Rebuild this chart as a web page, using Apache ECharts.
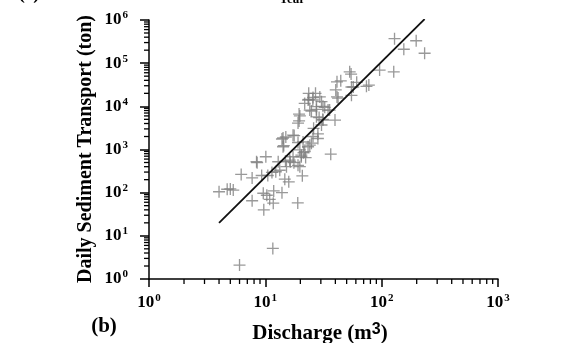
<!DOCTYPE html>
<html>
<head>
<meta charset="utf-8">
<script src="https://cdn.jsdelivr.net/npm/echarts@6/dist/echarts.min.js"></script>
<style>html,body{margin:0;padding:0;background:#fff;}#c{width:579px;height:343px;}</style>
</head>
<body>
<div id="c"></div>
<script>
// Observed discharge (m3) and daily sediment transport (ton)
const discharge = [4.0,4.7,5.0,5.3,6.2,7.7,8.5,10.1,9.3,10.5,11.4,12.3,7.7,9.6,10.3,10.9,11.7,9.7,13.9,14.7,
  15.9,19.0,20.8,11.8,11.6,6.0,12.9,14.9,16.4,17.6,19.1,20.4,21.3,22.2,24.1,19.8,13.9,14.4,15.0,17.7,
  19.1,19.5,19.5,23.3,25.7,27.0,29.4,30.4,32.4,34.6,27.5,24.9,29.0,26.0,30.4,31.2,28.3,25.7,39.7,36.5,
  42.2,53.1,41.3,44.5,40.3,55,57,129,155,198,234,96,127,61,74,14.2,8.4,
  23.6,31.3,35.7,19.8,19.1,17.3,21.1,24.9,28.3,14.2,23.6,25.6,27.5,27.5,31.3,24.1,21.8,17.3,20.4,21.8,
  23.3,16.2,15.2,19.8,13.3,54.6,77.6,55,41.3];
const sediment = [105,120,122,115,265,220,495,680,250,250,295,305,65,97,87,70,57,40,100,205,
  178,58,245,110,5.1,2.1,520,540,520,495,430,740,840,650,1260,980,1750,1230,1950,2100,
  1450,6600,4600,14000,16000,20000,16500,12800,9500,8200,8500,7800,5500,3100,3700,5000,2300,2000,4800,780,
  15500,63000,37000,39000,24000,18000,28000,370000,210000,330000,170000,69000,63000,36000,29000,1850,520,
  14500,10000,8200,6000,4100,2150,1500,1400,1800,1160,20000,14000,9800,5700,4800,8200,11700,680,680,890,
  1160,570,400,400,330,56000,31000,28000,16500];
// Fitted regression line end points
const fitDischarge = [4.0, 234];
const fitSediment = [20, 1050000];
// Axis ranges (powers of ten)
const xDecades = [1, 10, 100, 1000];
const yDecades = [1, 10, 100, 1000, 10000, 100000, 1000000];
const minorMultipliers = [2,3,4,5,6,7,8,9];

const serif = "'Liberation Serif','Times New Roman',serif";
const points = discharge.map((d, i) => [d, sediment[i]]);
const fitLine = fitDischarge.map((d, i) => [d, fitSediment[i]]);
const xMinor = [], yMinor = [];
xDecades.slice(0, -1).forEach(d => minorMultipliers.forEach(m => xMinor.push([d * m, 1])));
yDecades.slice(0, -1).forEach(d => minorMultipliers.forEach(m => yMinor.push([1, d * m])));

function powLabel(v) {
  const e = Math.round(Math.log10(v));
  return '{b|10}{s|' + e + '}';
}
const labelRich = {
  b: {fontFamily: serif, fontWeight: 'bold', fontSize: 17, color: '#000'},
  s: {fontFamily: serif, fontWeight: 'bold', fontSize: 11, color: '#000', verticalAlign: 'top', padding: [0,0,9,1]}
};

const chart = echarts.init(document.getElementById('c'), null, {renderer: 'canvas'});
chart.setOption({
  animation: false,
  backgroundColor: '#fff',
  grid: {left: 149, right: 81, top: 20, bottom: 64},
  xAxis: {
    type: 'log', logBase: 10, min: 1, max: 1000, splitNumber: 3,
    axisLine: {lineStyle: {color: '#000', width: 1.5}},
    axisTick: {inside: false, length: 8, lineStyle: {color: '#000', width: 1.5}},
    axisLabel: {formatter: powLabel, rich: labelRich, margin: 14},
    splitLine: {show: false}
  },
  yAxis: {
    type: 'log', logBase: 10, min: 1, max: 1000000, splitNumber: 6,
    axisLine: {lineStyle: {color: '#000', width: 1.5}},
    axisTick: {inside: false, length: 9, lineStyle: {color: '#000', width: 1.5}},
    axisLabel: {formatter: powLabel, rich: labelRich, margin: 21},
    splitLine: {show: false}
  },
  series: [
    {
      type: 'scatter', data: points, symbolSize: 12,
      symbol: 'path://M0,8.9H20V11.1H0Z M8.9,0H11.1V20H8.9Z',
      itemStyle: {color: '#808080'}, z: 3
    },
    {
      type: 'line', data: fitLine, symbol: 'none',
      lineStyle: {color: '#111', width: 1.8}, z: 4
    },
    {
      type: 'custom', data: xMinor, silent: true, clip: false,
      renderItem: function (params, api) {
        const p = api.coord([api.value(0), api.value(1)]);
        return {type: 'line', shape: {x1: p[0], y1: p[1], x2: p[0], y2: p[1] + 5},
          style: {stroke: '#000', lineWidth: 1.3}};
      }
    },
    {
      type: 'custom', data: yMinor, silent: true, clip: false,
      renderItem: function (params, api) {
        const p = api.coord([api.value(0), api.value(1)]);
        return {type: 'line', shape: {x1: p[0] - 5, y1: p[1], x2: p[0], y2: p[1]},
          style: {stroke: '#000', lineWidth: 1.3}};
      }
    }
  ],
  graphic: [
    {type: 'text', x: 86, y: 149, rotation: Math.PI / 2,
      style: {text: 'Daily Sediment Transport (ton)', font: 'bold 20px ' + serif, fill: '#000',
        textAlign: 'center', textVerticalAlign: 'middle'}},
    {type: 'text', x: 320, y: 334,
      style: {text: '{a|Discharge (m}{s|3}{a|)}', textAlign: 'center', textVerticalAlign: 'middle',
        rich: {a: {fontFamily: serif, fontWeight: 'bold', fontSize: 21, fill: '#000'},
               s: {fontFamily: "'Liberation Sans',Arial,sans-serif", fontWeight: 'bold', fontSize: 16, fill: '#000', padding: [0,0,8,0]}}}},
    {type: 'text', x: 104, y: 327,
      style: {text: '(b)', font: 'bold 21px ' + serif, fill: '#000', textAlign: 'center', textVerticalAlign: 'middle'}},
    {type: 'text', x: 292, y: 6,
      style: {text: 'Year', font: 'bold 13px ' + serif, fill: '#000', textAlign: 'center', textVerticalAlign: 'bottom'}},
    {type: 'text', x: 29, y: 4,
      style: {text: '(c)', font: 'bold 19px ' + serif, fill: '#000', textAlign: 'center', textVerticalAlign: 'bottom'}}
  ]
});
</script>
</body>
</html>
